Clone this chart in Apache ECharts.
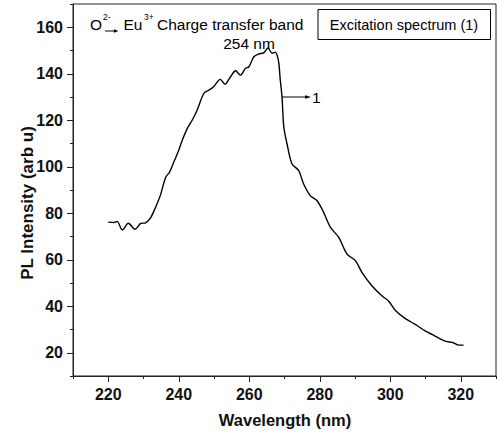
<!DOCTYPE html>
<html>
<head>
<meta charset="utf-8">
<script src="https://cdn.jsdelivr.net/npm/echarts@6/dist/echarts.min.js"></script>
<style>
html,body{margin:0;padding:0;background:#fff;}
#chart{width:497px;height:444px;}
</style>
</head>
<body>
<div id="chart"></div>
<script>
// Data
const wavelength = [220.0,221.6,222.5,224.0,225.7,227.6,229.2,230.6,232.0,233.4,234.8,236.3,237.4,238.6,239.8,241.0,242.4,243.8,245.2,247.1,248.5,249.9,251.8,253.1,254.7,256.1,257.5,258.9,259.9,261.3,262.7,264.1,265.3,266.5,267.4,267.9,268.4,268.8,269.3,269.8,270.7,272.1,274.0,275.4,277.3,279.2,281.1,283.0,285.4,287.7,290.1,292.0,294.8,297.6,299.5,301.4,304.2,307.1,309.9,312.7,315.6,317.9,319.4,320.8];
const intensity  = [76.2,76.0,76.5,72.8,75.7,73.1,75.6,75.9,78.0,82.5,87.8,95.5,97.7,102.0,106.3,111.4,116.4,120.0,124.3,131.5,132.9,134.4,137.6,135.5,138.7,141.3,139.4,142.3,143.0,147.3,148.5,149.0,151.1,148.8,149.3,148.0,144.5,137.3,130.0,117.1,110.0,101.3,98.4,92.7,87.6,85.5,80.4,74.0,69.6,62.5,59.6,54.5,48.8,44.5,42.3,38.3,34.8,32.2,29.4,27.2,25.0,24.3,23.3,23.3];
const xMajorTicks = [220,240,260,280,300,320];
const xMinorTicks = [210,230,250,270,290,310,330];
const yMajorTicks = [20,40,60,80,100,120,140,160];
const yMinorTicks = [10,30,50,70,90,110,130,150,170];
const xRange = [210, 330];
const yRange = [10, 170];
const arrowPoint = [269.3, 130]; // where the "1" label arrow leaves the curve

const FONT = "'Liberation Sans', Arial, sans-serif";
const AXIS_COLOR = '#222';

const chart = echarts.init(document.getElementById('chart'), null, {renderer: 'svg'});

const seriesData = wavelength.map((w, i) => [w, intensity[i]]);

function mainAxis(range, ticks) {
  return {
    type: 'value', min: range[0], max: range[1],
    axisLine: {show: true, onZero: false, lineStyle: {color: AXIS_COLOR, width: 1}},
    axisTick: {show: true, inside: false, length: 6, customValues: ticks, lineStyle: {color: AXIS_COLOR, width: 1}},
    axisLabel: {show: true, customValues: ticks, fontFamily: FONT, fontWeight: 'bold', fontSize: 16, color: '#111', margin: 10},
    splitLine: {show: false}
  };
}
function minorAxis(range, ticks) {
  return {
    type: 'value', min: range[0], max: range[1],
    axisLine: {show: false, onZero: false},
    axisTick: {show: true, inside: false, length: 3, customValues: ticks, lineStyle: {color: AXIS_COLOR, width: 1}},
    axisLabel: {show: false},
    splitLine: {show: false}
  };
}

const xMain = mainAxis(xRange, xMajorTicks); xMain.position = 'bottom';
const xMinor = minorAxis(xRange, xMinorTicks); xMinor.position = 'bottom';
const yMain = mainAxis(yRange, yMajorTicks); yMain.position = 'left';
const yMinor = minorAxis(yRange, yMinorTicks); yMinor.position = 'left';

chart.setOption({
  animation: false,
  backgroundColor: '#fff',
  grid: {left: 73, right: 1, top: 4, bottom: 68, containLabel: false, outerBoundsMode: 'none',
         show: true, borderColor: AXIS_COLOR, borderWidth: 1, backgroundColor: 'transparent'},
  xAxis: [xMain, xMinor],
  yAxis: [yMain, yMinor],
  series: [{
    type: 'line', xAxisIndex: 0, yAxisIndex: 0,
    data: seriesData, showSymbol: false, smooth: 0.3,
    lineStyle: {color: '#000', width: 1.4}
  }]
});

const p = chart.convertToPixel({xAxisIndex: 0, yAxisIndex: 0}, arrowPoint);
const ax = p[0], ay = p[1];

chart.setOption({
  graphic: [
    // axis titles
    {type: 'text', x: 285, y: 420, style: {text: 'Wavelength (nm)', font: "bold 16.5px " + FONT, fill: '#111', textAlign: 'center', textVerticalAlign: 'middle'}},
    {type: 'text', x: 27.5, y: 203, rotation: Math.PI / 2, style: {text: 'PL Intensity (arb u)', font: "bold 17px " + FONT, fill: '#111', textAlign: 'center', textVerticalAlign: 'middle'}},
    // charge transfer annotation
    {type: 'text', x: 90, y: 24.5, style: {text: 'O', font: "15.5px " + FONT, fill: '#000', textAlign: 'left', textVerticalAlign: 'middle'}},
    {type: 'text', x: 103, y: 17, style: {text: '2-', font: "8.5px " + FONT, fill: '#000', textAlign: 'left', textVerticalAlign: 'middle'}},
    {type: 'line', shape: {x1: 105, y1: 31, x2: 115, y2: 31}, style: {stroke: '#000', lineWidth: 1}},
    {type: 'polygon', shape: {points: [[114, 29.3], [118.5, 31], [114, 32.7]]}, style: {fill: '#000'}},
    {type: 'text', x: 123.5, y: 24.5, style: {text: 'Eu', font: "15.5px " + FONT, fill: '#000', textAlign: 'left', textVerticalAlign: 'middle'}},
    {type: 'text', x: 144, y: 17, style: {text: '3+', font: "8.5px " + FONT, fill: '#000', textAlign: 'left', textVerticalAlign: 'middle'}},
    {type: 'text', x: 157, y: 24.5, style: {text: 'Charge transfer band', font: "15.5px " + FONT, fill: '#000', textAlign: 'left', textVerticalAlign: 'middle'}},
    {type: 'text', x: 249, y: 43, style: {text: '254 nm', font: "15.5px " + FONT, fill: '#000', textAlign: 'center', textVerticalAlign: 'middle'}},
    // legend box
    {type: 'rect', shape: {x: 318, y: 9.5, width: 172.5, height: 30}, style: {fill: '#fff', stroke: '#000', lineWidth: 1}},
    {type: 'text', x: 404, y: 24.5, style: {text: 'Excitation spectrum (1)', font: "14.5px " + FONT, fill: '#000', textAlign: 'center', textVerticalAlign: 'middle'}},
    // curve label "1"
    {type: 'line', shape: {x1: ax, y1: ay, x2: ax + 24, y2: ay}, style: {stroke: '#000', lineWidth: 1}},
    {type: 'polygon', shape: {points: [[ax + 23, ay - 1.8], [ax + 29, ay], [ax + 23, ay + 1.8]]}, style: {fill: '#000'}},
    {type: 'text', x: ax + 30, y: ay, style: {text: '1', font: "15.5px " + FONT, fill: '#000', textAlign: 'left', textVerticalAlign: 'middle'}}
  ]
});
</script>
</body>
</html>
